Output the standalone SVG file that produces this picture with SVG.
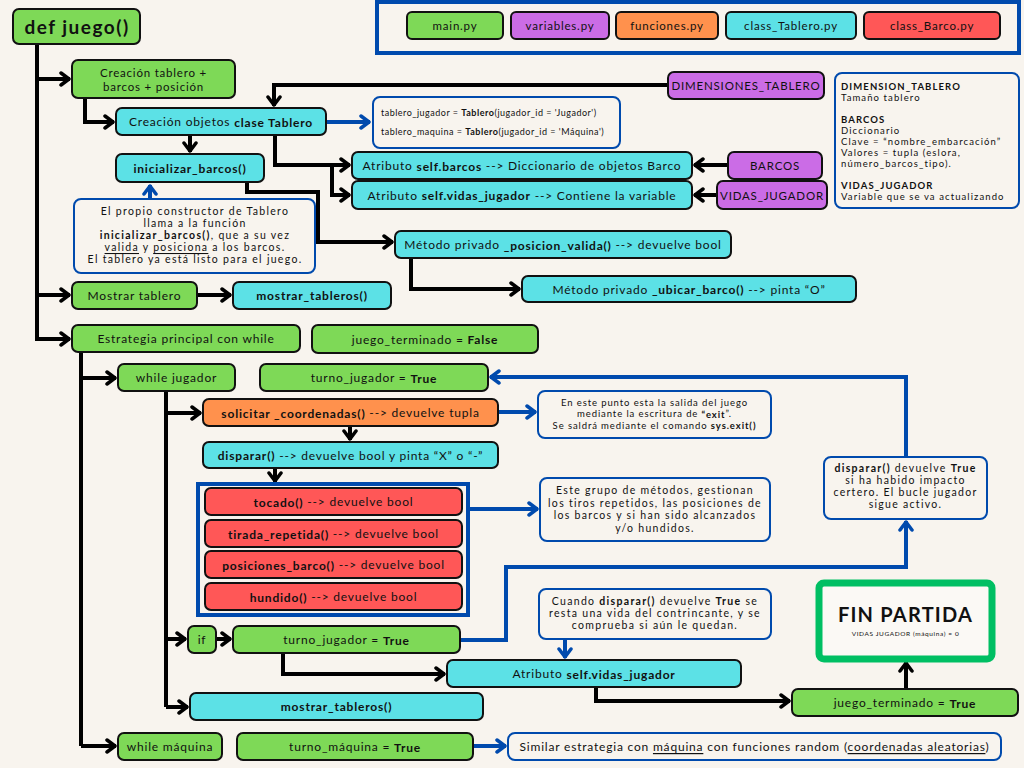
<svg xmlns="http://www.w3.org/2000/svg" width="1024" height="768" viewBox="0 0 1024 768">
<defs>
<style>
.bx{stroke:#111;stroke-width:2}
.g{fill:#7ed957}.c{fill:#5ce1e6}.p{fill:#cb6ce6}.o{fill:#ff914d}.r{fill:#ff5757}
.nb{fill:#f8f4ee;stroke:#004aad;stroke-width:2}
.t{font-family:Lato,"Open Sans",sans-serif;font-size:12px;fill:#111;text-anchor:middle;dominant-baseline:central;letter-spacing:0.8px}
.s{font-size:12px}
.n{font-size:10.5px;letter-spacing:1.3px}
.l{text-anchor:start}
.b{font-weight:bold}
.u{text-decoration:underline}
.k{fill:none;stroke:#000;stroke-width:4}
.bl{fill:none;stroke:#004aad;stroke-width:4}
.lg{font-size:9.5px;letter-spacing:1.1px}
</style>
<marker id="ak" markerUnits="userSpaceOnUse" markerWidth="14" markerHeight="16" viewBox="0 0 14 16" refX="12" refY="8" orient="auto"><path d="M3,2 L11,8 L3,14" fill="none" stroke="#000" stroke-width="3.5" stroke-linecap="round" stroke-linejoin="round"/></marker>
<marker id="ab" markerUnits="userSpaceOnUse" markerWidth="14" markerHeight="16" viewBox="0 0 14 16" refX="12" refY="8" orient="auto"><path d="M3,2 L11,8 L3,14" fill="none" stroke="#004aad" stroke-width="3.5" stroke-linecap="round" stroke-linejoin="round"/></marker>
</defs>
<rect width="1024" height="768" fill="#f8f4ee"/>

<g id="connectors">
<path class="k" d="M37,44 V341"/>
<path class="k" d="M37,79 H70" marker-end="url(#ak)"/>
<path class="k" d="M37,295 H70" marker-end="url(#ak)"/>
<path class="k" d="M37,339 H70" marker-end="url(#ak)"/>
<path class="k" d="M85,98 V122 H114" marker-end="url(#ak)"/>
<path class="k" d="M668,85 H274 V106" marker-end="url(#ak)"/>
<path class="bl" d="M326,122 H370" marker-end="url(#ab)"/>
<path class="k" d="M190,135 V152" marker-end="url(#ak)"/>
<path class="k" d="M275,135 V165 H350" marker-end="url(#ak)"/>
<path class="k" d="M332,165 V195 H350" marker-end="url(#ak)"/>
<path class="k" d="M728,165 H694" marker-end="url(#ak)"/>
<path class="k" d="M717,195 H694" marker-end="url(#ak)"/>
<path class="k" d="M247,182 V192 H318 V242 H393" marker-end="url(#ak)"/>
<path class="k" d="M411,258 V289 H520" marker-end="url(#ak)"/>
<path class="bl" d="M150,198 V185" marker-end="url(#ab)"/>
<path class="k" d="M197,295 H231" marker-end="url(#ak)"/>
<path class="k" d="M81,352 V746"/>
<path class="k" d="M81,378 H116" marker-end="url(#ak)"/>
<path class="k" d="M81,746 H116" marker-end="url(#ak)"/>
<path class="k" d="M166,391 V707"/>
<path class="k" d="M166,413 H201" marker-end="url(#ak)"/>
<path class="k" d="M166,639 H186" marker-end="url(#ak)"/>
<path class="k" d="M166,707 H188" marker-end="url(#ak)"/>
<path class="bl" d="M498,412 H536" marker-end="url(#ab)"/>
<path class="k" d="M350,426 V440" marker-end="url(#ak)"/>
<path class="k" d="M275,468 V482" marker-end="url(#ak)"/>
<path class="bl" d="M468,509 H538" marker-end="url(#ab)"/>
<path class="k" d="M216,639 H231" marker-end="url(#ak)"/>
<path class="bl" d="M460,640 H506 V567 H906 V521" marker-end="url(#ab)"/>
<path class="bl" d="M906,457 V377 H490" marker-end="url(#ab)"/>
<path class="k" d="M283,653 V674 H445" marker-end="url(#ak)"/>
<path class="bl" d="M565,639 V658" marker-end="url(#ab)"/>
<path class="k" d="M596,687 V701 H790" marker-end="url(#ak)"/>
<path class="k" d="M906,689 V662" marker-end="url(#ak)"/>
<path class="bl" d="M473,746 H506" marker-end="url(#ab)"/>
</g>

<g id="legend">
<rect x="377" y="2" width="642" height="51" fill="none" stroke="#004aad" stroke-width="4"/>
<rect class="bx g" x="407" y="12" width="96" height="27" rx="5"/><text class="t" style="font-size:11.5px" x="455" y="25.5">main.py</text>
<rect class="bx p" x="511" y="12" width="98" height="27" rx="5"/><text class="t" style="font-size:11.5px" x="560" y="25.5">variables.py</text>
<rect class="bx o" x="616" y="12" width="102" height="27" rx="5"/><text class="t" style="font-size:11.5px" x="667" y="25.5">funciones.py</text>
<rect class="bx c" x="726" y="12" width="130" height="27" rx="5"/><text class="t" style="font-size:11.5px" x="791" y="25.5">class_Tablero.py</text>
<rect class="bx r" x="864" y="12" width="136" height="27" rx="5"/><text class="t" style="font-size:11.5px" x="932" y="25.5">class_Barco.py</text>
</g>

<g id="def_juego"><rect class="bx g" x="13" y="9" width="127" height="35" rx="6"/><text class="t b" style="font-size:19px;letter-spacing:1.5px" x="77" y="26.5">def juego()</text></g>

<g id="creacion_tablero"><rect class="bx g" x="72" y="60" width="163" height="38" rx="6"/><text class="t" style="font-size:11.5px" x="153.5" y="72">Creación tablero +</text><text class="t" style="font-size:11.5px" x="153.5" y="86">barcos + posición</text></g>

<g id="clase_tablero"><rect class="bx c" x="116" y="108" width="210" height="27" rx="6"/><text class="t s" x="221" y="121.5">Creación objetos <tspan class="b">clase Tablero</tspan></text></g>

<g id="dimensiones"><rect class="bx p" x="668" y="72" width="156" height="27" rx="6"/><text class="t" style="font-size:11.5px" x="746" y="85.5">DIMENSIONES_TABLERO</text></g>

<g id="nota_tableros"><rect class="nb" x="373" y="97" width="247" height="51" rx="7"/>
<text class="t l" style="font-size:9px;letter-spacing:0.5px" x="381" y="112">tablero_jugador = <tspan class="b">Tablero</tspan>(jugador_id = 'Jugador')</text>
<text class="t l" style="font-size:9px;letter-spacing:0.5px" x="381" y="131">tablero_maquina = <tspan class="b">Tablero</tspan>(jugador_id = 'Máquina')</text></g>

<g id="inicializar"><rect class="bx c" x="116" y="154" width="148" height="28" rx="6"/><text class="t s b" x="190" y="168">inicializar_barcos()</text></g>

<g id="attr_barcos"><rect class="bx c" x="352" y="152" width="340" height="27" rx="6"/><text class="t" x="522" y="165.5">Atributo <tspan class="b">self.barcos</tspan> --&gt; Diccionario de objetos Barco</text></g>
<g id="attr_vidas"><rect class="bx c" x="352" y="181" width="340" height="28" rx="6"/><text class="t" x="522" y="195">Atributo <tspan class="b">self.vidas_jugador</tspan> --&gt; Contiene la variable</text></g>

<g id="barcos"><rect class="bx p" x="728" y="152" width="94" height="27" rx="6"/><text class="t" style="font-size:11.5px" x="775" y="165.5">BARCOS</text></g>
<g id="vidas_jugador"><rect class="bx p" x="717" y="181" width="110" height="28" rx="6"/><text class="t" style="font-size:11.5px" x="772" y="195">VIDAS_JUGADOR</text></g>

<g id="leyenda_variables"><rect class="nb" x="835" y="73" width="184" height="135" rx="7"/>
<text class="t l b lg" x="841" y="86">DIMENSION_TABLERO</text>
<text class="t l lg" x="841" y="97">Tamaño tablero</text>
<text class="t l b lg" x="841" y="119">BARCOS</text>
<text class="t l lg" x="841" y="130">Diccionario</text>
<text class="t l lg" x="841" y="141">Clave = “nombre_embarcación”</text>
<text class="t l lg" x="841" y="152">Valores = tupla (eslora,</text>
<text class="t l lg" x="841" y="163">número_barcos_tipo).</text>
<text class="t l b lg" x="841" y="185">VIDAS_JUGADOR</text>
<text class="t l lg" x="841" y="196">Variable que se va actualizando</text>
</g>

<g id="nota_constructor"><rect class="nb" x="74" y="199" width="241" height="74" rx="7"/>
<text class="t n" x="195" y="211">El propio constructor de Tablero</text>
<text class="t n" x="195" y="223">llama a la función</text>
<text class="t n" x="195" y="235"><tspan class="b">inicializar_barcos()</tspan>, que a su vez</text>
<text class="t n" x="195" y="247"><tspan class="u">valida</tspan> y <tspan class="u">posiciona</tspan> a los barcos.</text>
<text class="t n" x="195" y="259">El tablero ya está listo para el juego.</text></g>

<g id="posicion_valida"><rect class="bx c" x="395" y="231" width="336" height="27" rx="6"/><text class="t s" x="563" y="244.5">Método privado <tspan class="b">_posicion_valida()</tspan> --&gt; devuelve bool</text></g>
<g id="ubicar_barco"><rect class="bx c" x="522" y="276" width="334" height="26" rx="6"/><text class="t s" x="689" y="289">Método privado <tspan class="b">_ubicar_barco()</tspan> --&gt; pinta “O”</text></g>

<g id="mostrar_tablero"><rect class="bx g" x="72" y="282" width="125" height="27" rx="6"/><text class="t s" x="134.5" y="295.5">Mostrar tablero</text></g>
<g id="mostrar_tableros_1"><rect class="bx c" x="233" y="282" width="158" height="27" rx="6"/><text class="t s b" x="312" y="295.5">mostrar_tableros()</text></g>

<g id="estrategia"><rect class="bx g" x="72" y="325" width="228" height="27" rx="6"/><text class="t s" x="186" y="338.5">Estrategia principal con while</text></g>
<g id="juego_terminado_false"><rect class="bx g" x="312" y="325" width="226" height="28" rx="6"/><text class="t s" x="425" y="339">juego_terminado = <tspan class="b">False</tspan></text></g>

<g id="while_jugador"><rect class="bx g" x="118" y="364" width="117" height="27" rx="6"/><text class="t s" x="176.5" y="377.5">while jugador</text></g>
<g id="turno_jugador_1"><rect class="bx g" x="260" y="364" width="228" height="27" rx="6"/><text class="t s" x="374" y="377.5">turno_jugador = <tspan class="b">True</tspan></text></g>

<g id="solicitar"><rect class="bx o" x="203" y="399" width="295" height="27" rx="6"/><text class="t s" x="350.5" y="412.5"><tspan class="b">solicitar _coordenadas()</tspan> --&gt; devuelve tupla</text></g>
<g id="nota_exit"><rect class="nb" x="538" y="391" width="233" height="47" rx="7"/>
<text class="t" style="font-size:9.5px;letter-spacing:0.9px" x="654.5" y="402">En este punto esta la salida del juego</text>
<text class="t" style="font-size:9.5px;letter-spacing:0.9px" x="654.5" y="413.5">mediante la escritura de <tspan class="b">“exit</tspan>”.</text>
<text class="t" style="font-size:9.5px;letter-spacing:0.9px" x="654.5" y="425">Se saldrá mediante el comando <tspan class="b">sys.exit()</tspan></text></g>

<g id="disparar"><rect class="bx c" x="203" y="442" width="295" height="26" rx="6"/><text class="t s" x="350.5" y="455"><tspan class="b">disparar()</tspan> --&gt; devuelve bool y pinta “X” o “-”</text></g>

<g id="grupo_metodos"><rect x="198" y="484" width="270" height="131" fill="none" stroke="#004aad" stroke-width="4"/>
<rect class="bx r" x="205" y="488" width="257" height="27" rx="6"/><text class="t s" x="333.5" y="501.5"><tspan class="b">tocado()</tspan> --&gt; devuelve bool</text>
<rect class="bx r" x="205" y="520" width="257" height="27" rx="6"/><text class="t s" x="333.5" y="533.5"><tspan class="b">tirada_repetida()</tspan> --&gt; devuelve bool</text>
<rect class="bx r" x="205" y="551" width="257" height="27" rx="6"/><text class="t s" x="333.5" y="564.5"><tspan class="b">posiciones_barco()</tspan> --&gt; devuelve bool</text>
<rect class="bx r" x="205" y="583" width="257" height="27" rx="6"/><text class="t s" x="333.5" y="596.5"><tspan class="b">hundido()</tspan> --&gt; devuelve bool</text></g>

<g id="nota_metodos"><rect class="nb" x="540" y="478" width="230" height="63" rx="7"/>
<text class="t n" x="655" y="490">Este grupo de métodos, gestionan</text>
<text class="t n" x="655" y="502.5">los tiros repetidos, las posiciones de</text>
<text class="t n" x="655" y="515">los barcos y si han sido alcanzados</text>
<text class="t n" x="655" y="527.5">y/o hundidos.</text></g>

<g id="nota_disparar"><rect class="nb" x="824" y="457" width="163" height="62" rx="7"/>
<text class="t n" x="905.5" y="467.5"><tspan class="b">disparar()</tspan> devuelve <tspan class="b">True</tspan></text>
<text class="t n" x="905.5" y="479.5">si ha habido impacto</text>
<text class="t n" x="905.5" y="491.5">certero. El bucle jugador</text>
<text class="t n" x="905.5" y="503.5">sigue activo.</text></g>

<g id="if"><rect class="bx g" x="188" y="626" width="28" height="27" rx="6"/><text class="t s" x="202" y="639">if</text></g>
<g id="turno_jugador_2"><rect class="bx g" x="233" y="626" width="227" height="27" rx="6"/><text class="t s" x="346.5" y="639.5">turno_jugador = <tspan class="b">True</tspan></text></g>

<g id="nota_cuando"><rect class="nb" x="539" y="589" width="232" height="50" rx="7"/>
<text class="t n" x="655" y="601">Cuando <tspan class="b">disparar()</tspan> devuelve <tspan class="b">True</tspan> se</text>
<text class="t n" x="655" y="613">resta una vida del contrincante, y se</text>
<text class="t n" x="655" y="625">comprueba si aún le quedan.</text></g>

<g id="attr_vidas_2"><rect class="bx c" x="447" y="660" width="294" height="27" rx="6"/><text class="t s" x="594" y="673.5">Atributo <tspan class="b">self.vidas_jugador</tspan></text></g>

<g id="fin_partida"><rect x="819" y="583" width="173" height="76" rx="5" fill="#fbf9f5" stroke="#00bf63" stroke-width="7"/>
<text class="t b" style="font-size:20px;letter-spacing:1.2px" x="905.5" y="614">FIN PARTIDA</text>
<text class="t" style="font-size:6.5px;letter-spacing:0.6px" x="905.5" y="633">VIDAS JUGADOR (máquina) = 0</text></g>

<g id="juego_terminado_true"><rect class="bx g" x="792" y="689" width="226" height="27" rx="6"/><text class="t s" x="905" y="702.5">juego_terminado = <tspan class="b">True</tspan></text></g>

<g id="mostrar_tableros_2"><rect class="bx c" x="190" y="693" width="293" height="27" rx="6"/><text class="t s b" x="336.5" y="706.5">mostrar_tableros()</text></g>

<g id="while_maquina"><rect class="bx g" x="118" y="733" width="104" height="27" rx="6"/><text class="t s" x="170" y="746.5">while máquina</text></g>
<g id="turno_maquina"><rect class="bx g" x="237" y="733" width="236" height="27" rx="6"/><text class="t s" x="355" y="746.5">turno_máquina = <tspan class="b">True</tspan></text></g>
<g id="nota_maquina"><rect class="nb" x="508" y="733" width="493" height="27" rx="7"/>
<text class="t s" x="754.5" y="746">Similar estrategia con <tspan class="u">máquina</tspan> con funciones random (<tspan class="u">coordenadas aleatorias</tspan>)</text></g>
</svg>
